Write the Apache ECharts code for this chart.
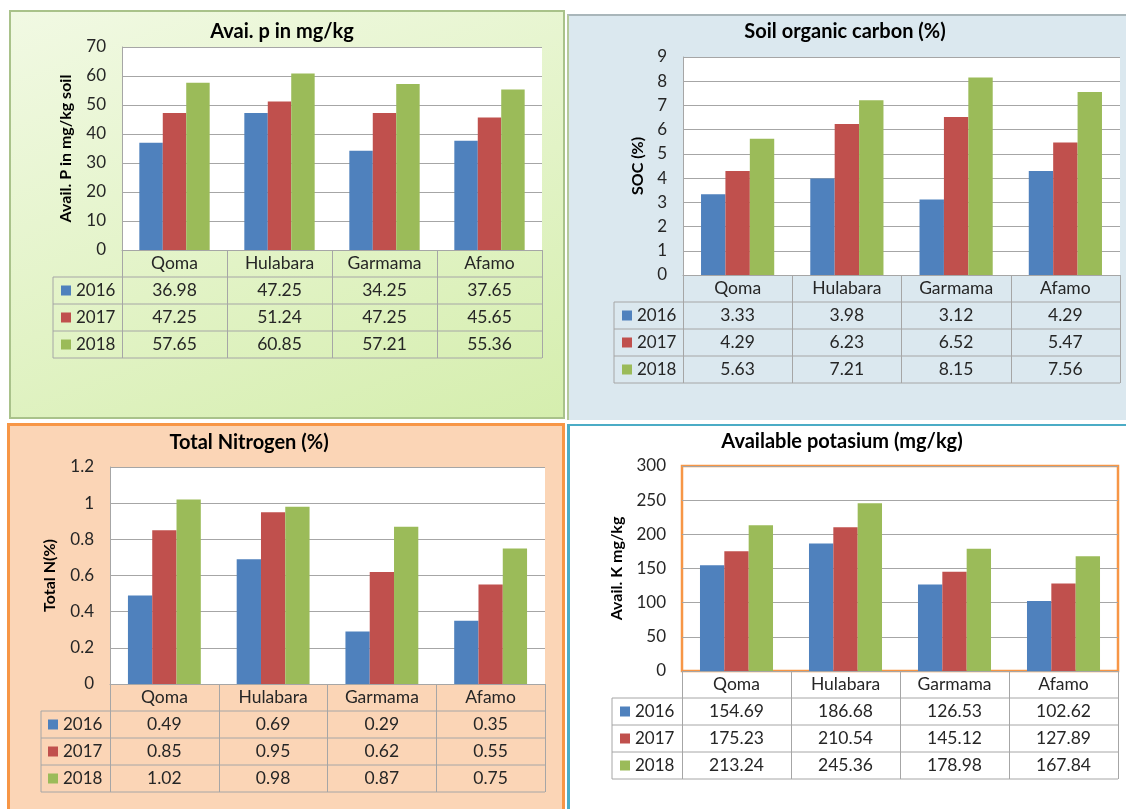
<!DOCTYPE html>
<html><head><meta charset="utf-8">
<script src="https://cdn.jsdelivr.net/npm/echarts@6/dist/echarts.min.js"></script>
<style>
html,body{margin:0;padding:0;background:#fff;width:1126px;height:809px;overflow:hidden;position:relative}
.p{position:absolute;box-sizing:border-box}
#chart{position:absolute;left:0;top:0;width:1126px;height:809px}
</style></head><body>
<div class="p" style="left:9px;top:10px;width:556px;height:409px;border:2px solid #a9c28a;background:linear-gradient(160deg,#f1f9e3 0%,#e2f3c6 55%,#d5eeae 100%)"></div>
<div class="p" style="left:567px;top:14px;width:570px;height:406px;border-top:2px solid #a9b6ba;border-left:2px solid #b4c99a;background:#dbe8ef"></div>
<div class="p" style="left:7px;top:423px;width:558px;height:400px;border:3px solid #f79646;background:#fbd5b6"></div>
<div class="p" style="left:567px;top:424px;width:570px;height:400px;border-top:2px solid #4bacc6;border-left:3px solid #4bacc6;background:#fff"></div>
<div id="chart"></div>
<script>
// ---- data ----
const categories = ['Qoma', 'Hulabara', 'Garmama', 'Afamo'];
const years = ['2016', '2017', '2018'];

const availP2016 = [36.98, 47.25, 34.25, 37.65];
const availP2017 = [47.25, 51.24, 47.25, 45.65];
const availP2018 = [57.65, 60.85, 57.21, 55.36];

const soc2016 = [3.33, 3.98, 3.12, 4.29];
const soc2017 = [4.29, 6.23, 6.52, 5.47];
const soc2018 = [5.63, 7.21, 8.15, 7.56];

const totalN2016 = [0.49, 0.69, 0.29, 0.35];
const totalN2017 = [0.85, 0.95, 0.62, 0.55];
const totalN2018 = [1.02, 0.98, 0.87, 0.75];

const availK2016 = [154.69, 186.68, 126.53, 102.62];
const availK2017 = [175.23, 210.54, 145.12, 127.89];
const availK2018 = [213.24, 245.36, 178.98, 167.84];

const titles = ['Avai. p in mg/kg', 'Soil organic carbon (%)', 'Total Nitrogen (%)', 'Available potasium (mg/kg)'];
const yNames = ['Avail. P in mg/kg soil', 'SOC (%)', 'Total N(%)', 'Avail. K mg/kg'];
const yMax = [70, 9, 1.2, 300];
const yStep = [10, 1, 0.2, 50];
const panelData = [
  [availP2016, availP2017, availP2018],
  [soc2016, soc2017, soc2018],
  [totalN2016, totalN2017, totalN2018],
  [availK2016, availK2017, availK2018]
];

// ---- layout / style ----
const yearColors = ['#4f81bd', '#c0504d', '#9bbb59'];
const FONT = 'Lato, "Liberation Sans", sans-serif';
const layout = [
  {left: 122, top: 47, width: 420, height: 203, tableLeft: 53, rowH: 27, legendLeft: 61, titleX: 282, titleY: 32, nameGap: 48, border: false},
  {left: 683, top: 57, width: 437, height: 218, tableLeft: 614, rowH: 27, legendLeft: 622, titleX: 845, titleY: 32, nameGap: 37, border: false},
  {left: 110, top: 467, width: 435, height: 217, tableLeft: 41, rowH: 27, legendLeft: 48, titleX: 249, titleY: 443, nameGap: 52, border: false},
  {left: 682, top: 466, width: 436, height: 205, tableLeft: 612, rowH: 27, legendLeft: 620, titleX: 842, titleY: 442, nameGap: 57, border: true}
];
const lineColor = '#a6a6a6';

const grids = [], xAxes = [], yAxes = [], series = [], legends = [], graphics = [];
layout.forEach((L, p) => {
  grids.push({
    left: L.left, top: L.top, width: L.width, height: L.height,
    show: true, backgroundColor: '#ffffff',
    borderColor: L.border ? '#f79646' : 'transparent', borderWidth: L.border ? 2.5 : 0
  });
  const d = panelData[p];
  xAxes.push({
    type: 'category', gridIndex: p, data: categories,
    axisLine: {show: true, lineStyle: {color: lineColor, width: 1}},
    axisTick: {show: true, interval: 0, length: L.rowH * 4, lineStyle: {color: lineColor}},
    axisLabel: {
      interval: 0, margin: 0, fontSize: 17.5, lineHeight: L.rowH, color: '#262626', fontFamily: FONT,
      formatter: (v, i) => [v, d[0][i].toFixed(2), d[1][i].toFixed(2), d[2][i].toFixed(2)].join('\n')
    }
  });
  yAxes.push({
    type: 'value', gridIndex: p, min: 0, max: yMax[p], interval: yStep[p],
    name: yNames[p], nameLocation: 'middle', nameRotate: 90, nameGap: L.nameGap,
    nameTextStyle: {fontSize: 16, fontWeight: 'bold', color: '#000', fontFamily: FONT},
    axisLine: {show: !L.border, lineStyle: {color: lineColor}},
    axisTick: {show: false},
    axisLabel: {fontSize: 17, color: '#262626', margin: 16, fontFamily: FONT},
    splitLine: {show: true, lineStyle: {color: lineColor, width: 1}}
  });
  years.forEach((yr, k) => {
    series.push({
      type: 'bar', name: yr, xAxisIndex: p, yAxisIndex: p, data: d[k],
      barGap: '0%', barCategoryGap: '33%',
      itemStyle: {color: yearColors[k]}
    });
  });
  const axisY = L.top + L.height;
  legends.push({
    data: years, orient: 'vertical', left: L.legendLeft, top: axisY + L.rowH + L.rowH / 2 - 9,
    padding: 0, itemWidth: 10, itemHeight: 10, itemGap: L.rowH - 18, icon: 'rect', selectedMode: false,
    textStyle: {fontSize: 17, lineHeight: 18, color: '#262626', fontFamily: FONT}
  });
  graphics.push({
    type: 'text', x: L.titleX, y: L.titleY,
    style: {text: titles[p], align: 'center', verticalAlign: 'middle', fill: '#000', font: 'bold 20px ' + FONT}
  });
  const right = L.left + L.width;
  for (let r = 1; r <= 4; r++) {
    const y = axisY + r * L.rowH;
    graphics.push({type: 'line', shape: {x1: L.tableLeft, y1: y, x2: right, y2: y}, style: {stroke: lineColor, lineWidth: 1}});
  }
  graphics.push({type: 'line', shape: {x1: L.tableLeft, y1: axisY + L.rowH, x2: L.tableLeft, y2: axisY + 4 * L.rowH}, style: {stroke: lineColor, lineWidth: 1}});
});

const chart = echarts.init(document.getElementById('chart'), null, {renderer: 'canvas'});
chart.setOption({
  animation: false,
  grid: grids, xAxis: xAxes, yAxis: yAxes, series: series, legend: legends,
  graphic: graphics
});
</script>
</body></html>
